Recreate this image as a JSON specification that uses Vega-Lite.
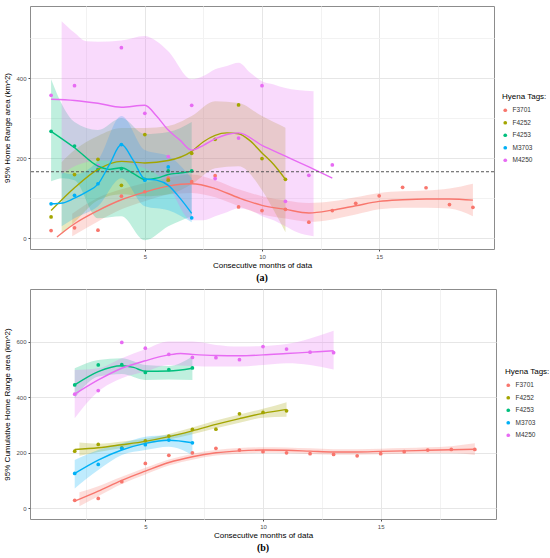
{
  "$schema": "https://vega.github.io/schema/vega-lite/v6.json",
  "padding": {"left": 3, "top": 5, "right": 0, "bottom": 0},
  "background": "white",
  "spacing": 4,
  "config": {
    "font": "Liberation Sans",
    "view": {"stroke": "#8c8c8c", "strokeWidth": 1},
    "axis": {"labelFontSize": 6, "labelColor": "#4d4d4d", "titleFontSize": 8, "titleFontWeight": "normal", "titleColor": "#000000", "domain": false, "tickSize": 2, "labelPadding": 2},
    "legend": {"symbolType": "circle", "symbolSize": 14, "symbolStrokeWidth": 0, "symbolOpacity": 1, "labelFontSize": 6.5, "labelColor": "#333333", "titleFontSize": 8, "titleFontWeight": "normal", "titleColor": "#000000", "rowPadding": 5.5, "titlePadding": 6},
    "title": {"orient": "bottom", "font": "Liberation Serif", "fontSize": 10, "fontWeight": "bold", "color": "#000000", "offset": 4}
  },
  "datasets": {
    "a_pts": [
      {"tag": "F3701", "month": 1, "area": 19}, {"tag": "F3701", "month": 2, "area": 26}, {"tag": "F3701", "month": 3, "area": 20}, {"tag": "F3701", "month": 4, "area": 105}, {"tag": "F3701", "month": 5, "area": 116}, {"tag": "F3701", "month": 6, "area": 150}, {"tag": "F3701", "month": 7, "area": 141}, {"tag": "F3701", "month": 8, "area": 156}, {"tag": "F3701", "month": 9, "area": 78}, {"tag": "F3701", "month": 10, "area": 69}, {"tag": "F3701", "month": 11, "area": 72}, {"tag": "F3701", "month": 12, "area": 40}, {"tag": "F3701", "month": 13, "area": 69}, {"tag": "F3701", "month": 14, "area": 87}, {"tag": "F3701", "month": 15, "area": 106}, {"tag": "F3701", "month": 16, "area": 127}, {"tag": "F3701", "month": 17, "area": 126}, {"tag": "F3701", "month": 18, "area": 84}, {"tag": "F3701", "month": 19, "area": 77},
      {"tag": "F4252", "month": 1, "area": 53}, {"tag": "F4252", "month": 2, "area": 159}, {"tag": "F4252", "month": 3, "area": 197}, {"tag": "F4252", "month": 4, "area": 132}, {"tag": "F4252", "month": 5, "area": 259}, {"tag": "F4252", "month": 6, "area": 145}, {"tag": "F4252", "month": 7, "area": 212}, {"tag": "F4252", "month": 8, "area": 247}, {"tag": "F4252", "month": 9, "area": 333}, {"tag": "F4252", "month": 10, "area": 199}, {"tag": "F4252", "month": 11, "area": 147},
      {"tag": "F4253", "month": 1, "area": 267}, {"tag": "F4253", "month": 2, "area": 230}, {"tag": "F4253", "month": 3, "area": 172}, {"tag": "F4253", "month": 4, "area": 174}, {"tag": "F4253", "month": 5, "area": 147}, {"tag": "F4253", "month": 6, "area": 168}, {"tag": "F4253", "month": 7, "area": 168},
      {"tag": "M3703", "month": 1, "area": 86}, {"tag": "M3703", "month": 2, "area": 107}, {"tag": "M3703", "month": 3, "area": 136}, {"tag": "M3703", "month": 4, "area": 234}, {"tag": "M3703", "month": 5, "area": 145}, {"tag": "M3703", "month": 6, "area": 178}, {"tag": "M3703", "month": 7, "area": 51},
      {"tag": "M4250", "month": 1, "area": 357}, {"tag": "M4250", "month": 2, "area": 381}, {"tag": "M4250", "month": 3, "area": 181}, {"tag": "M4250", "month": 4, "area": 476}, {"tag": "M4250", "month": 5, "area": 312}, {"tag": "M4250", "month": 6, "area": 204}, {"tag": "M4250", "month": 7, "area": 332}, {"tag": "M4250", "month": 8, "area": 149}, {"tag": "M4250", "month": 9, "area": 250}, {"tag": "M4250", "month": 10, "area": 381}, {"tag": "M4250", "month": 11, "area": 92}, {"tag": "M4250", "month": 12, "area": 157}, {"tag": "M4250", "month": 13, "area": 183}
    ],
    "a_line": [
      {"tag": "F3701", "month": 1.25, "area": 3}, {"tag": "F3701", "month": 2, "area": 36}, {"tag": "F3701", "month": 3, "area": 69}, {"tag": "F3701", "month": 4, "area": 96}, {"tag": "F3701", "month": 5, "area": 115}, {"tag": "F3701", "month": 6, "area": 130}, {"tag": "F3701", "month": 7, "area": 136}, {"tag": "F3701", "month": 8, "area": 124}, {"tag": "F3701", "month": 9, "area": 101}, {"tag": "F3701", "month": 10, "area": 82}, {"tag": "F3701", "month": 11, "area": 72}, {"tag": "F3701", "month": 12, "area": 63}, {"tag": "F3701", "month": 13, "area": 70}, {"tag": "F3701", "month": 14, "area": 81}, {"tag": "F3701", "month": 15, "area": 92}, {"tag": "F3701", "month": 16, "area": 96}, {"tag": "F3701", "month": 17, "area": 98}, {"tag": "F3701", "month": 18, "area": 98}, {"tag": "F3701", "month": 19, "area": 95},
      {"tag": "F4252", "month": 1, "area": 69}, {"tag": "F4252", "month": 2, "area": 126}, {"tag": "F4252", "month": 3, "area": 172}, {"tag": "F4252", "month": 4, "area": 192}, {"tag": "F4252", "month": 5, "area": 188}, {"tag": "F4252", "month": 6, "area": 194}, {"tag": "F4252", "month": 7, "area": 217}, {"tag": "F4252", "month": 7.5, "area": 241}, {"tag": "F4252", "month": 8, "area": 257}, {"tag": "F4252", "month": 8.5, "area": 263}, {"tag": "F4252", "month": 9, "area": 261}, {"tag": "F4252", "month": 9.5, "area": 243}, {"tag": "F4252", "month": 10, "area": 213}, {"tag": "F4252", "month": 10.5, "area": 184}, {"tag": "F4252", "month": 11, "area": 147},
      {"tag": "F4253", "month": 1, "area": 267}, {"tag": "F4253", "month": 2, "area": 226}, {"tag": "F4253", "month": 3, "area": 180}, {"tag": "F4253", "month": 3.5, "area": 172}, {"tag": "F4253", "month": 4, "area": 176}, {"tag": "F4253", "month": 4.5, "area": 162}, {"tag": "F4253", "month": 5, "area": 147}, {"tag": "F4253", "month": 5.5, "area": 150}, {"tag": "F4253", "month": 6, "area": 159}, {"tag": "F4253", "month": 6.5, "area": 163}, {"tag": "F4253", "month": 7, "area": 167},
      {"tag": "M3703", "month": 1, "area": 86}, {"tag": "M3703", "month": 1.5, "area": 88}, {"tag": "M3703", "month": 2, "area": 100}, {"tag": "M3703", "month": 2.5, "area": 115}, {"tag": "M3703", "month": 3, "area": 135}, {"tag": "M3703", "month": 3.5, "area": 185}, {"tag": "M3703", "month": 4, "area": 234}, {"tag": "M3703", "month": 4.5, "area": 195}, {"tag": "M3703", "month": 5, "area": 148}, {"tag": "M3703", "month": 5.5, "area": 145}, {"tag": "M3703", "month": 6, "area": 132}, {"tag": "M3703", "month": 6.5, "area": 100}, {"tag": "M3703", "month": 7, "area": 62},
      {"tag": "M4250", "month": 1, "area": 347}, {"tag": "M4250", "month": 2, "area": 344}, {"tag": "M4250", "month": 3, "area": 337}, {"tag": "M4250", "month": 4, "area": 327}, {"tag": "M4250", "month": 5, "area": 332}, {"tag": "M4250", "month": 5.5, "area": 305}, {"tag": "M4250", "month": 6, "area": 270}, {"tag": "M4250", "month": 6.5, "area": 245}, {"tag": "M4250", "month": 7, "area": 220}, {"tag": "M4250", "month": 7.5, "area": 232}, {"tag": "M4250", "month": 8, "area": 248}, {"tag": "M4250", "month": 8.5, "area": 259}, {"tag": "M4250", "month": 9, "area": 263}, {"tag": "M4250", "month": 10, "area": 232}, {"tag": "M4250", "month": 11, "area": 205}, {"tag": "M4250", "month": 12, "area": 178}, {"tag": "M4250", "month": 13, "area": 150}
    ],
    "a_band": [
      {"tag": "F3701", "month": 1.9, "lo": 5, "hi": 61}, {"tag": "F3701", "month": 3, "lo": 42, "hi": 101}, {"tag": "F3701", "month": 4, "lo": 72, "hi": 122}, {"tag": "F3701", "month": 5, "lo": 92, "hi": 138}, {"tag": "F3701", "month": 6, "lo": 109, "hi": 151}, {"tag": "F3701", "month": 7, "lo": 113, "hi": 159}, {"tag": "F3701", "month": 8, "lo": 102, "hi": 145}, {"tag": "F3701", "month": 9, "lo": 80, "hi": 122}, {"tag": "F3701", "month": 10, "lo": 59, "hi": 105}, {"tag": "F3701", "month": 11, "lo": 49, "hi": 94}, {"tag": "F3701", "month": 12, "lo": 41, "hi": 88}, {"tag": "F3701", "month": 13, "lo": 47, "hi": 92}, {"tag": "F3701", "month": 14, "lo": 59, "hi": 102}, {"tag": "F3701", "month": 15, "lo": 72, "hi": 113}, {"tag": "F3701", "month": 16, "lo": 76, "hi": 117}, {"tag": "F3701", "month": 17, "lo": 76, "hi": 119}, {"tag": "F3701", "month": 18, "lo": 74, "hi": 124}, {"tag": "F3701", "month": 19, "lo": 55, "hi": 136},
      {"tag": "F4252", "month": 1.45, "lo": 10, "hi": 190}, {"tag": "F4252", "month": 2, "lo": 40, "hi": 220}, {"tag": "F4252", "month": 3, "lo": 95, "hi": 255}, {"tag": "F4252", "month": 4, "lo": 110, "hi": 275}, {"tag": "F4252", "month": 5, "lo": 105, "hi": 275}, {"tag": "F4252", "month": 6, "lo": 110, "hi": 280}, {"tag": "F4252", "month": 7, "lo": 135, "hi": 305}, {"tag": "F4252", "month": 8, "lo": 175, "hi": 342}, {"tag": "F4252", "month": 9, "lo": 180, "hi": 338}, {"tag": "F4252", "month": 10, "lo": 120, "hi": 305}, {"tag": "F4252", "month": 10.5, "lo": 70, "hi": 290}, {"tag": "F4252", "month": 11, "lo": 15, "hi": 276},
      {"tag": "F4253", "month": 1, "lo": 142, "hi": 397}, {"tag": "F4253", "month": 1.5, "lo": 150, "hi": 330}, {"tag": "F4253", "month": 2, "lo": 145, "hi": 290}, {"tag": "F4253", "month": 3, "lo": 50, "hi": 270}, {"tag": "F4253", "month": 4, "lo": 55, "hi": 300}, {"tag": "F4253", "month": 5, "lo": -5, "hi": 260}, {"tag": "F4253", "month": 6, "lo": 30, "hi": 265}, {"tag": "F4253", "month": 7, "lo": 55, "hi": 290},
      {"tag": "M3703", "month": 1.45, "lo": 30, "hi": 165}, {"tag": "M3703", "month": 2, "lo": 50, "hi": 160}, {"tag": "M3703", "month": 3, "lo": 80, "hi": 195}, {"tag": "M3703", "month": 4, "lo": 150, "hi": 305}, {"tag": "M3703", "month": 5, "lo": 80, "hi": 220}, {"tag": "M3703", "month": 6, "lo": 70, "hi": 205}, {"tag": "M3703", "month": 7, "lo": 40, "hi": 150},
      {"tag": "M4250", "month": 1.45, "lo": 160, "hi": 542}, {"tag": "M4250", "month": 2, "lo": 180, "hi": 513}, {"tag": "M4250", "month": 2.5, "lo": 190, "hi": 492}, {"tag": "M4250", "month": 3, "lo": 195, "hi": 491}, {"tag": "M4250", "month": 4, "lo": 190, "hi": 494}, {"tag": "M4250", "month": 5, "lo": 175, "hi": 505}, {"tag": "M4250", "month": 5.5, "lo": 160, "hi": 492}, {"tag": "M4250", "month": 6, "lo": 130, "hi": 467}, {"tag": "M4250", "month": 7, "lo": 45, "hi": 397}, {"tag": "M4250", "month": 7.5, "lo": 45, "hi": 405}, {"tag": "M4250", "month": 8, "lo": 55, "hi": 422}, {"tag": "M4250", "month": 8.5, "lo": 65, "hi": 430}, {"tag": "M4250", "month": 9, "lo": 75, "hi": 438}, {"tag": "M4250", "month": 9.5, "lo": 70, "hi": 413}, {"tag": "M4250", "month": 10, "lo": 55, "hi": 392}, {"tag": "M4250", "month": 10.5, "lo": 45, "hi": 384}, {"tag": "M4250", "month": 11, "lo": 30, "hi": 375}, {"tag": "M4250", "month": 11.5, "lo": 15, "hi": 370}, {"tag": "M4250", "month": 12.2, "lo": 5, "hi": 367}
    ],
    "b_pts": [
      {"tag": "F3701", "month": 2, "area": 29}, {"tag": "F3701", "month": 3, "area": 36}, {"tag": "F3701", "month": 4, "area": 96}, {"tag": "F3701", "month": 5, "area": 162}, {"tag": "F3701", "month": 6, "area": 191}, {"tag": "F3701", "month": 7, "area": 200}, {"tag": "F3701", "month": 8, "area": 216}, {"tag": "F3701", "month": 9, "area": 210}, {"tag": "F3701", "month": 10, "area": 204}, {"tag": "F3701", "month": 11, "area": 200}, {"tag": "F3701", "month": 12, "area": 197}, {"tag": "F3701", "month": 13, "area": 194}, {"tag": "F3701", "month": 14, "area": 189}, {"tag": "F3701", "month": 15, "area": 197}, {"tag": "F3701", "month": 16, "area": 204}, {"tag": "F3701", "month": 17, "area": 210}, {"tag": "F3701", "month": 18, "area": 212}, {"tag": "F3701", "month": 19, "area": 212},
      {"tag": "F4252", "month": 2, "area": 206}, {"tag": "F4252", "month": 3, "area": 230}, {"tag": "F4252", "month": 4, "area": 218}, {"tag": "F4252", "month": 5, "area": 243}, {"tag": "F4252", "month": 6, "area": 260}, {"tag": "F4252", "month": 7, "area": 284}, {"tag": "F4252", "month": 8, "area": 285}, {"tag": "F4252", "month": 9, "area": 340}, {"tag": "F4252", "month": 10, "area": 345}, {"tag": "F4252", "month": 11, "area": 351},
      {"tag": "F4253", "month": 2, "area": 444}, {"tag": "F4253", "month": 3, "area": 516}, {"tag": "F4253", "month": 4, "area": 517}, {"tag": "F4253", "month": 5, "area": 489}, {"tag": "F4253", "month": 6, "area": 499}, {"tag": "F4253", "month": 7, "area": 505},
      {"tag": "M3703", "month": 2, "area": 126}, {"tag": "M3703", "month": 3, "area": 158}, {"tag": "M3703", "month": 4, "area": 216}, {"tag": "M3703", "month": 5, "area": 229}, {"tag": "M3703", "month": 6, "area": 246}, {"tag": "M3703", "month": 7, "area": 236},
      {"tag": "M4250", "month": 2, "area": 411}, {"tag": "M4250", "month": 3, "area": 424}, {"tag": "M4250", "month": 4, "area": 597}, {"tag": "M4250", "month": 5, "area": 576}, {"tag": "M4250", "month": 6, "area": 554}, {"tag": "M4250", "month": 7, "area": 543}, {"tag": "M4250", "month": 8, "area": 542}, {"tag": "M4250", "month": 9, "area": 535}, {"tag": "M4250", "month": 10, "area": 582}, {"tag": "M4250", "month": 11, "area": 573}, {"tag": "M4250", "month": 12, "area": 562}, {"tag": "M4250", "month": 13, "area": 560}
    ],
    "b_line": [
      {"tag": "F3701", "month": 2, "area": 26}, {"tag": "F3701", "month": 3, "area": 62}, {"tag": "F3701", "month": 4, "area": 101}, {"tag": "F3701", "month": 5, "area": 134}, {"tag": "F3701", "month": 6, "area": 165}, {"tag": "F3701", "month": 7, "area": 186}, {"tag": "F3701", "month": 8, "area": 200}, {"tag": "F3701", "month": 9, "area": 207}, {"tag": "F3701", "month": 10, "area": 210}, {"tag": "F3701", "month": 11, "area": 209}, {"tag": "F3701", "month": 12, "area": 206}, {"tag": "F3701", "month": 13, "area": 203}, {"tag": "F3701", "month": 14, "area": 203}, {"tag": "F3701", "month": 15, "area": 205}, {"tag": "F3701", "month": 16, "area": 207}, {"tag": "F3701", "month": 17, "area": 209}, {"tag": "F3701", "month": 18, "area": 211}, {"tag": "F3701", "month": 19, "area": 213},
      {"tag": "F4252", "month": 2, "area": 212}, {"tag": "F4252", "month": 3, "area": 218}, {"tag": "F4252", "month": 4, "area": 229}, {"tag": "F4252", "month": 5, "area": 241}, {"tag": "F4252", "month": 6, "area": 258}, {"tag": "F4252", "month": 7, "area": 279}, {"tag": "F4252", "month": 8, "area": 302}, {"tag": "F4252", "month": 9, "area": 323}, {"tag": "F4252", "month": 10, "area": 342}, {"tag": "F4252", "month": 11, "area": 356},
      {"tag": "F4253", "month": 2, "area": 444}, {"tag": "F4253", "month": 3, "area": 492}, {"tag": "F4253", "month": 4, "area": 513}, {"tag": "F4253", "month": 4.5, "area": 507}, {"tag": "F4253", "month": 5, "area": 493}, {"tag": "F4253", "month": 6, "area": 494}, {"tag": "F4253", "month": 7, "area": 504},
      {"tag": "M3703", "month": 2, "area": 126}, {"tag": "M3703", "month": 3, "area": 174}, {"tag": "M3703", "month": 4, "area": 210}, {"tag": "M3703", "month": 5, "area": 234}, {"tag": "M3703", "month": 6, "area": 245}, {"tag": "M3703", "month": 7, "area": 236},
      {"tag": "M4250", "month": 2, "area": 411}, {"tag": "M4250", "month": 3, "area": 462}, {"tag": "M4250", "month": 4, "area": 504}, {"tag": "M4250", "month": 5, "area": 531}, {"tag": "M4250", "month": 6, "area": 552}, {"tag": "M4250", "month": 6.5, "area": 557}, {"tag": "M4250", "month": 7, "area": 554}, {"tag": "M4250", "month": 8, "area": 550}, {"tag": "M4250", "month": 9, "area": 549}, {"tag": "M4250", "month": 10, "area": 552}, {"tag": "M4250", "month": 11, "area": 557}, {"tag": "M4250", "month": 12, "area": 562}, {"tag": "M4250", "month": 13, "area": 567}
    ],
    "b_band": [
      {"tag": "F3701", "month": 2.2, "lo": 8, "hi": 58}, {"tag": "F3701", "month": 3, "lo": 44, "hi": 80}, {"tag": "F3701", "month": 4, "lo": 88, "hi": 114}, {"tag": "F3701", "month": 5, "lo": 122, "hi": 146}, {"tag": "F3701", "month": 6, "lo": 154, "hi": 176}, {"tag": "F3701", "month": 7, "lo": 175, "hi": 197}, {"tag": "F3701", "month": 8, "lo": 190, "hi": 210}, {"tag": "F3701", "month": 9, "lo": 197, "hi": 217}, {"tag": "F3701", "month": 10, "lo": 200, "hi": 220}, {"tag": "F3701", "month": 11, "lo": 199, "hi": 219}, {"tag": "F3701", "month": 12, "lo": 196, "hi": 216}, {"tag": "F3701", "month": 13, "lo": 193, "hi": 213}, {"tag": "F3701", "month": 14, "lo": 193, "hi": 213}, {"tag": "F3701", "month": 15, "lo": 195, "hi": 215}, {"tag": "F3701", "month": 16, "lo": 197, "hi": 217}, {"tag": "F3701", "month": 17, "lo": 198, "hi": 220}, {"tag": "F3701", "month": 18, "lo": 198, "hi": 224}, {"tag": "F3701", "month": 19, "lo": 192, "hi": 234},
      {"tag": "F4252", "month": 2.2, "lo": 189, "hi": 237}, {"tag": "F4252", "month": 3, "lo": 203, "hi": 233}, {"tag": "F4252", "month": 4, "lo": 217, "hi": 241}, {"tag": "F4252", "month": 5, "lo": 231, "hi": 251}, {"tag": "F4252", "month": 6, "lo": 248, "hi": 268}, {"tag": "F4252", "month": 7, "lo": 267, "hi": 291}, {"tag": "F4252", "month": 8, "lo": 288, "hi": 316}, {"tag": "F4252", "month": 9, "lo": 308, "hi": 338}, {"tag": "F4252", "month": 10, "lo": 326, "hi": 358}, {"tag": "F4252", "month": 11, "lo": 330, "hi": 382},
      {"tag": "F4253", "month": 2, "lo": 396, "hi": 504}, {"tag": "F4253", "month": 3, "lo": 474, "hi": 534}, {"tag": "F4253", "month": 4, "lo": 483, "hi": 540}, {"tag": "F4253", "month": 5, "lo": 462, "hi": 516}, {"tag": "F4253", "month": 6, "lo": 464, "hi": 512}, {"tag": "F4253", "month": 7, "lo": 462, "hi": 546},
      {"tag": "M3703", "month": 2, "lo": 72, "hi": 174}, {"tag": "M3703", "month": 3, "lo": 138, "hi": 210}, {"tag": "M3703", "month": 4, "lo": 192, "hi": 234}, {"tag": "M3703", "month": 5, "lo": 210, "hi": 258}, {"tag": "M3703", "month": 6, "lo": 222, "hi": 264}, {"tag": "M3703", "month": 7, "lo": 192, "hi": 276},
      {"tag": "M4250", "month": 2, "lo": 324, "hi": 498}, {"tag": "M4250", "month": 3, "lo": 420, "hi": 504}, {"tag": "M4250", "month": 4, "lo": 468, "hi": 540}, {"tag": "M4250", "month": 5, "lo": 492, "hi": 572}, {"tag": "M4250", "month": 6, "lo": 516, "hi": 600}, {"tag": "M4250", "month": 7, "lo": 512, "hi": 600}, {"tag": "M4250", "month": 8, "lo": 510, "hi": 588}, {"tag": "M4250", "month": 9, "lo": 510, "hi": 582}, {"tag": "M4250", "month": 10, "lo": 516, "hi": 584}, {"tag": "M4250", "month": 11, "lo": 522, "hi": 591}, {"tag": "M4250", "month": 12, "lo": 516, "hi": 611}, {"tag": "M4250", "month": 13, "lo": 500, "hi": 639}
    ]
  },
  "vconcat": [
    {
      "width": 464,
      "height": 243,
      "title": {"text": "(a)"},
      "encoding": {
        "x": {"field": "month", "type": "quantitative", "scale": {"domain": [0.1, 19.9], "nice": false, "zero": false}, "title": "Consecutive months of data", "axis": {"values": [2.5, 5, 7.5, 10, 12.5, 15, 17.5], "labelExpr": "datum.value % 5 === 0 ? datum.label : ''", "gridColor": {"condition": {"test": "datum.value % 5 === 0", "value": "#e6e6e6"}, "value": "#f2f2f2"}, "tickColor": {"condition": {"test": "datum.value % 5 === 0", "value": "#4d4d4d"}, "value": "transparent"}, "titlePadding": 2}},
        "color": {"field": "tag", "type": "nominal", "scale": {"domain": ["F3701", "F4252", "F4253", "M3703", "M4250"], "range": ["#F8766D", "#A3A500", "#00BF7D", "#00B0F6", "#E76BF3"]}, "legend": {"title": "Hyena Tags:", "orient": "none", "legendX": 472, "legendY": 87, "symbolType": "circle", "symbolOpacity": 1}}
      },
      "layer": [
        {
          "data": {"name": "a_band"},
          "mark": {"type": "area", "interpolate": "monotone", "fillOpacity": 0.25, "clip": true},
          "encoding": {
            "y": {"field": "lo", "type": "quantitative", "scale": {"domain": [-27, 580], "nice": false, "zero": false}, "title": "95% Home Range area (km^2)", "axis": {"values": [0, 100, 200, 300, 400, 500], "labelExpr": "datum.value % 200 === 0 ? datum.label : ''", "gridColor": {"condition": {"test": "datum.value % 200 === 0", "value": "#e6e6e6"}, "value": "#f2f2f2"}, "tickColor": {"condition": {"test": "datum.value % 200 === 0", "value": "#4d4d4d"}, "value": "transparent"}, "titlePadding": 4}},
            "y2": {"field": "hi"}
          }
        },
        {
          "data": {"name": "a_pts"},
          "mark": {"type": "point", "filled": true, "size": 14, "opacity": 1, "clip": true},
          "encoding": {
            "y": {"field": "area", "type": "quantitative", "title": "95% Home Range area (km^2)"}
          }
        },
        {
          "data": {"name": "a_line"},
          "mark": {"type": "line", "interpolate": "monotone", "strokeWidth": 1.4, "clip": true},
          "encoding": {
            "y": {"field": "area", "type": "quantitative", "title": "95% Home Range area (km^2)"}
          }
        },
        {
          "data": {"values": [{"area": 166}]},
          "mark": {"type": "rule", "strokeDash": [3, 2], "color": "#555555", "strokeWidth": 1},
          "encoding": {"y": {"field": "area", "type": "quantitative", "title": "95% Home Range area (km^2)"}, "x": null, "color": null}
        }
      ]
    },
    {
      "width": 466,
      "height": 230,
      "title": {"text": "(b)"},
      "encoding": {
        "x": {"field": "month", "type": "quantitative", "scale": {"domain": [0.1, 19.9], "nice": false, "zero": false}, "title": "Consecutive months of data", "axis": {"values": [2.5, 5, 7.5, 10, 12.5, 15, 17.5], "labelExpr": "datum.value % 5 === 0 ? datum.label : ''", "gridColor": {"condition": {"test": "datum.value % 5 === 0", "value": "#e6e6e6"}, "value": "#f2f2f2"}, "tickColor": {"condition": {"test": "datum.value % 5 === 0", "value": "#4d4d4d"}, "value": "transparent"}, "titlePadding": 2}},
        "color": {"field": "tag", "type": "nominal", "scale": {"domain": ["F3701", "F4252", "F4253", "M3703", "M4250"], "range": ["#F8766D", "#A3A500", "#00BF7D", "#00B0F6", "#E76BF3"]}, "legend": {"title": "Hyena Tags:", "orient": "none", "legendX": 475, "legendY": 79, "symbolType": "circle", "symbolOpacity": 1}}
      },
      "layer": [
        {
          "data": {"name": "b_band"},
          "mark": {"type": "area", "interpolate": "monotone", "fillOpacity": 0.25, "clip": true},
          "encoding": {
            "y": {"field": "lo", "type": "quantitative", "scale": {"domain": [-38, 789], "nice": false, "zero": false}, "title": "95% Cumulative Home Range area (km^2)", "axis": {"values": [0, 100, 200, 300, 400, 500, 600, 700], "labelExpr": "datum.value % 200 === 0 ? datum.label : ''", "gridColor": {"condition": {"test": "datum.value % 200 === 0", "value": "#e6e6e6"}, "value": "#f2f2f2"}, "tickColor": {"condition": {"test": "datum.value % 200 === 0", "value": "#4d4d4d"}, "value": "transparent"}, "titlePadding": 4}},
            "y2": {"field": "hi"}
          }
        },
        {
          "data": {"name": "b_pts"},
          "mark": {"type": "point", "filled": true, "size": 14, "opacity": 1, "clip": true},
          "encoding": {
            "y": {"field": "area", "type": "quantitative", "title": "95% Cumulative Home Range area (km^2)"}
          }
        },
        {
          "data": {"name": "b_line"},
          "mark": {"type": "line", "interpolate": "monotone", "strokeWidth": 1.4, "clip": true},
          "encoding": {
            "y": {"field": "area", "type": "quantitative", "title": "95% Cumulative Home Range area (km^2)"}
          }
        }
      ]
    }
  ],
  "resolve": {
    "scale": {"x": "independent", "y": "independent", "color": "independent"},
    "legend": {"color": "independent"}
  }
}
